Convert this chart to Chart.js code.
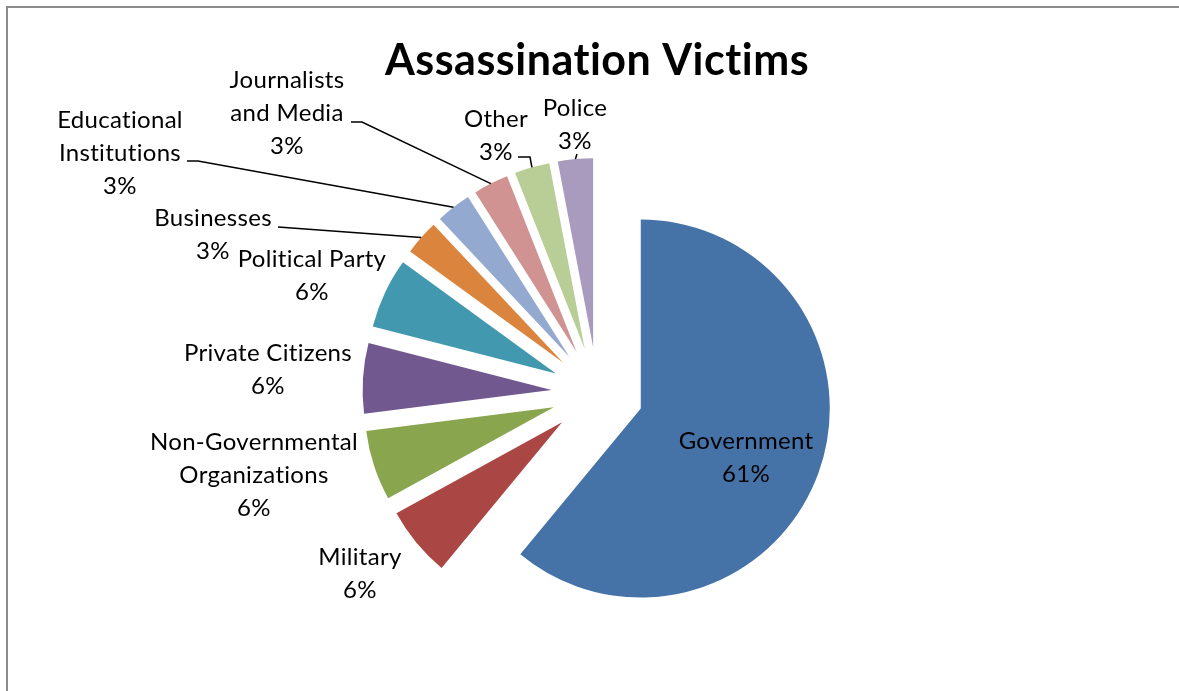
<!DOCTYPE html>
<html>
<head>
<meta charset="utf-8">
<title>Assassination Victims</title>
<script src="https://cdn.jsdelivr.net/npm/chart.js@4.4.1/dist/chart.umd.min.js"></script>
<style>
  html, body { margin: 0; padding: 0; background: #ffffff; }
  #wrap { width: 1179px; height: 691px; position: relative; }
</style>
</head>
<body>
<div id="wrap"><canvas id="pieChart"></canvas></div>
<script>
// Victim categories, clockwise from 12 o'clock
const categories = [
    'Government',
    'Military',
    ['Non-Governmental', 'Organizations'],
    'Private Citizens',
    'Political Party',
    'Businesses',
    ['Educational', 'Institutions'],
    ['Journalists', 'and Media'],
    'Other',
    'Police'
];
// share of victims, percent
const victimShare = [61, 6, 6, 6, 6, 3, 3, 3, 3, 3];

const sliceColors = [
    '#4572A7', '#AA4643', '#89A54E', '#71588F', '#4198AF',
    '#DB843D', '#93A9CF', '#D19392', '#B9CD96', '#A99BBD'
];

// every slice pulled straight out from the centre by the same distance
const EXPLODE = 46;
const RADIUS = 189;
const FONT = 'Lato, "Open Sans", sans-serif';

// data label placement: centre of first text line, optional leader (start, elbow)
const labelLayout = [
    { x: 746, y: 441 },
    { x: 360, y: 557 },
    { x: 254, y: 442 },
    { x: 268, y: 353 },
    { x: 312, y: 259 },
    { x: 213, y: 218, leader: [[278, 227]] },
    { x: 120, y: 120, leader: [[187, 161], [198, 161]] },
    { x: 287, y: 80,  leader: [[351, 122], [362, 122]] },
    { x: 496, y: 119, leader: [[518, 157], [530, 157]] },
    { x: 575, y: 108, leader: [[577, 154]] }
];

const total = victimShare.reduce((a, b) => a + b, 0);

// Pie whose slices are translated along their bisector without resizing them
class ExplodedPieController extends Chart.PieController {
    draw() {
        const ctx = this.chart.ctx;
        const area = this.chart.chartArea;
        this._cachedMeta.data.forEach(arc => {
            const mid = (arc.startAngle + arc.endAngle) / 2;
            ctx.save();
            ctx.translate(Math.cos(mid) * EXPLODE, Math.sin(mid) * EXPLODE);
            arc.draw(ctx, area);
            ctx.restore();
        });
    }
}
ExplodedPieController.id = 'explodedPie';
Chart.register(ExplodedPieController);

const frameAndTitle = {
    id: 'frameAndTitle',
    beforeDraw(chart) {
        const ctx = chart.ctx;
        ctx.save();
        ctx.fillStyle = '#ffffff';
        ctx.fillRect(0, 0, chart.width, chart.height);
        ctx.fillStyle = '#8c8c8c';
        ctx.fillRect(6, 6, chart.width, 2);
        ctx.fillRect(6, 6, 2, chart.height);
        ctx.restore();
    },
    afterDraw(chart) {
        const ctx = chart.ctx;
        ctx.save();
        ctx.fillStyle = '#000000';
        ctx.font = 'bold 43px ' + FONT;
        ctx.letterSpacing = '0.5px';
        ctx.textAlign = 'center';
        ctx.textBaseline = 'middle';
        ctx.fillText('Assassination Victims', 597, 61);
        ctx.restore();
    }
};

const dataLabels = {
    id: 'dataLabels',
    afterDatasetsDraw(chart) {
        const ctx = chart.ctx;
        const arcs = chart.getDatasetMeta(0).data;
        ctx.save();
        ctx.font = '24px ' + FONT;
        ctx.letterSpacing = '0.3px';
        ctx.textAlign = 'center';
        ctx.textBaseline = 'middle';
        ctx.fillStyle = '#000000';
        ctx.strokeStyle = '#000000';
        ctx.lineWidth = 1.5;

        arcs.forEach((arc, i) => {
            const pos = labelLayout[i];
            const name = categories[i];
            const pct = Math.round(victimShare[i] / total * 100) + '%';
            const lines = (Array.isArray(name) ? name : [name]).concat(pct);

            if (pos.leader) {
                const mid = (arc.startAngle + arc.endAngle) / 2;
                const r = arc.outerRadius + EXPLODE;
                ctx.beginPath();
                ctx.moveTo(pos.leader[0][0], pos.leader[0][1]);
                pos.leader.slice(1).forEach(p => ctx.lineTo(p[0], p[1]));
                ctx.lineTo(arc.x + Math.cos(mid) * r, arc.y + Math.sin(mid) * r);
                ctx.stroke();
            }

            lines.forEach((t, k) => ctx.fillText(t, pos.x, pos.y + k * 33));
        });
        ctx.restore();
    }
};

new Chart(document.getElementById('pieChart'), {
    type: 'explodedPie',
    data: {
        labels: categories,
        datasets: [{
            data: victimShare,
            backgroundColor: sliceColors,
            borderWidth: 0,
            offset: 0,
            hoverOffset: 0
        }]
    },
    options: {
        responsive: true,
        maintainAspectRatio: false,
        animation: false,
        events: [],
        radius: RADIUS,
        layout: { padding: { left: 16, right: 0, top: 95, bottom: 0 } },
        plugins: {
            legend: { display: false },
            title: { display: false },
            tooltip: { enabled: false }
        }
    },
    plugins: [frameAndTitle, dataLabels]
});
</script>
</body>
</html>
